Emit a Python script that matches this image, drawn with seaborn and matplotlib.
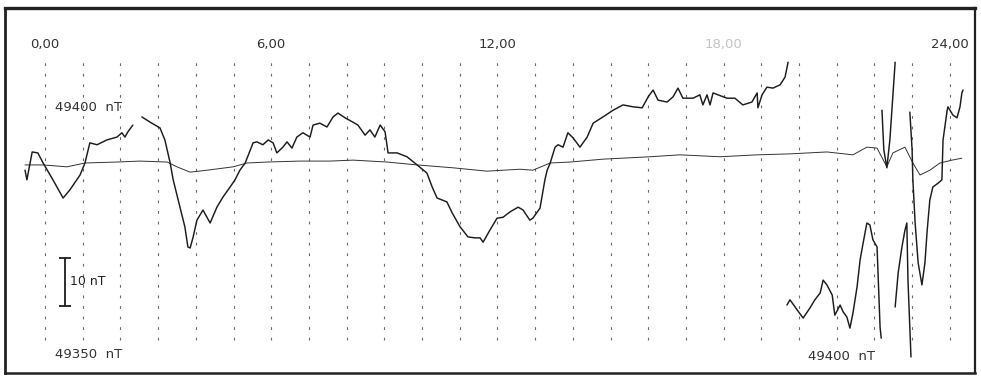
import numpy as np
import pandas as pd
import matplotlib
matplotlib.use("Agg")
import matplotlib.pyplot as plt
import seaborn as sns

# magnetogram, x in hours (UT), y in nT relative to the quiet base line
# main trace, split into pieces where the pen wrapped off the chart
seg_hours = [
    [-0.53, -0.48, -0.34, -0.19, -0.05, 0.21, 0.48, 0.66, 0.93, 1.06, 1.19, 1.38, 1.64, 1.91,
     2.04, 2.12, 2.20, 2.33],
    [2.57, 2.79, 3.05, 3.18, 3.32, 3.40, 3.58, 3.71, 3.79, 3.85, 3.93, 4.03, 4.19, 4.38, 4.56,
     4.72, 4.91, 5.04, 5.17, 5.31, 5.52, 5.62, 5.78, 5.92, 6.05, 6.15, 6.31, 6.42, 6.55, 6.68,
     6.84, 7.03, 7.11, 7.29, 7.48, 7.64, 7.77, 7.96, 8.17, 8.30, 8.49, 8.62, 8.75, 8.89, 9.02,
     9.10, 9.34, 9.60, 9.87, 10.13, 10.27, 10.40, 10.66, 10.80, 11.01, 11.22, 11.41, 11.54,
     11.62, 11.80, 11.99, 12.15, 12.33, 12.55, 12.68, 12.86, 12.94, 13.13, 13.26, 13.32, 13.40,
     13.53, 13.61, 13.74, 13.87, 14.01, 14.19, 14.38, 14.54, 14.80, 15.07, 15.33, 15.60, 15.84,
     16.00, 16.13, 16.26, 16.50, 16.66, 16.79, 16.92, 17.19, 17.37, 17.45, 17.56, 17.64, 17.72,
     17.85, 18.09, 18.30, 18.51, 18.75, 18.89, 18.91, 19.02, 19.15, 19.31, 19.50, 19.63, 19.71],
    [19.68, 19.76, 19.95, 20.11, 20.29, 20.42, 20.56, 20.64, 20.74, 20.88, 20.95, 21.09, 21.17,
     21.27, 21.35, 21.43, 21.54, 21.62, 21.70, 21.80, 21.88, 21.96, 22.07, 22.15, 22.18],
    [22.20, 22.25, 22.33, 22.41, 22.55],
    [22.55, 22.63, 22.73, 22.81, 22.86, 22.89, 22.97],
    [22.94, 23.00, 23.02, 23.08, 23.16, 23.26, 23.34, 23.40, 23.47, 23.55, 23.69, 23.79, 23.82,
     23.93, 23.95, 24.08, 24.19, 24.27, 24.32, 24.35],
]
seg_nt = [
    [-1.5, -3.5, 2.3, 2.1, 0.0, -3.5, -7.3, -5.6, -2.5, 0.0, 4.2, 3.8, 4.8, 5.4, 6.3, 5.4, 6.5, 7.9],
    [9.6, 8.5, 7.3, 4.8, 0.0, -3.5, -9.2, -13.3, -17.5, -17.7, -15.4, -11.9, -9.8, -12.5, -9.2,
     -7.1, -5.0, -3.5, -1.5, 0.0, 4.2, 4.4, 3.8, 4.8, 4.2, 2.1, 3.3, 4.4, 3.1, 5.4,
     6.3, 5.4, 7.9, 8.3, 7.5, 9.6, 10.4, 9.4, 8.5, 7.9, 5.8, 6.9, 5.4, 7.9, 6.5,
     2.1, 2.1, 1.3, -0.4, -2.1, -5.0, -7.3, -8.1, -10.4, -13.3, -15.4, -15.6, -15.6,
     -16.5, -14.0, -11.5, -11.3, -10.2, -9.2, -9.8, -11.9, -11.5, -9.4, -3.5, -1.5, 0.0,
     3.3, 3.8, 3.3, 6.3, 5.2, 3.3, 5.4, 8.3, 9.6, 11.0, 12.1, 11.7, 11.5,
     13.8, 15.2, 13.1, 12.7, 13.8, 15.6, 13.5, 13.5, 14.2, 12.1, 14.2, 12.1, 14.6,
     14.2, 13.5, 13.5, 12.1, 12.7, 14.6, 11.5, 14.2, 15.8, 15.6, 16.3, 17.9, 21.0],
    [-29.6, -28.5, -30.6, -32.3, -30.2, -28.5, -27.1, -24.4, -25.4, -27.5, -31.7, -29.6, -31.0,
     -32.1, -34.4, -31.3, -25.8, -20.2, -16.7, -12.5, -12.9, -16.0, -17.5, -34.2, -36.5],
    [11.0, 2.7, -1.0, 4.8, 21.0],
    [-30.0, -22.9, -17.5, -14.0, -12.5, -24.4, -40.4],
    [10.6, 2.7, -3.5, -12.5, -20.8, -25.4, -20.8, -14.0, -7.7, -5.0, -4.2, -3.5, 4.8,
     11.0, 11.7, 10.0, 9.4, 11.7, 14.6, 15.2],
]

# quiet reference trace
base_hours = [-0.53, -0.05, 0.58, 1.06, 1.91, 2.52, 3.24, 3.50, 3.85, 4.30, 4.99, 5.36, 5.89,
              6.76, 7.56, 8.17, 9.07, 9.87, 10.82, 11.72, 12.60, 12.94, 13.40, 13.93, 14.80,
              16.05, 16.84, 17.90, 18.89, 19.76, 20.74, 21.43, 21.80, 22.07, 22.33, 22.49,
              22.81, 23.02, 23.21, 23.47, 23.74, 24.06, 24.32]
base_nt = [-0.4, -0.4, -0.8, 0.0, 0.2, 0.4, 0.2, -0.8, -1.9, -1.5, -0.8, 0.0, 0.2,
           0.4, 0.4, 0.6, 0.2, -0.4, -1.0, -1.7, -1.3, -1.5, 0.0, 0.2, 0.8,
           1.3, 1.7, 1.3, 1.7, 1.9, 2.3, 1.7, 3.3, 3.1, -0.8, 2.1,
           3.3, 0.0, -2.5, -1.5, 0.0, 0.6, 1.0]

hour_lines = list(range(25))
tick_hours = [0, 6, 12, 18, 24]
tick_labels = ["0,00", "6,00", "12,00", "18,00", "24,00"]

rows = []
for k, (hh, vv) in enumerate(zip(seg_hours, seg_nt)):
    for h, v in zip(hh, vv):
        rows.append({"hour": h, "dF": v, "seg": k})
df = pd.DataFrame(rows)
df_base = pd.DataFrame({"hour": base_hours, "dF": base_nt})

sns.set_theme(style="white")
plt.rcParams["font.family"] = ["DejaVu Sans"]

fig = plt.figure(figsize=(9.81, 3.76), dpi=100)
ax = fig.add_axes([5 / 981, 3 / 376, 970 / 981, 365 / 376])
ink = "#1c1c1c"

# hourly dotted time marks
ax.vlines(hour_lines, -36.9, 21.5, colors="#6a6a6a", linewidth=0.8,
          linestyles=(0, (2.5, 7)), zorder=1)

sns.lineplot(data=df_base, x="hour", y="dF", sort=False, estimator=None,
             color="#333333", linewidth=0.7, ax=ax, zorder=2)
sns.lineplot(data=df, x="hour", y="dF", units="seg", estimator=None, sort=False,
             color=ink, linewidth=1.05, ax=ax, zorder=3, legend=False)

# 10 nT scale bar
ax.errorbar([0.53], [-24.7], yerr=[5.0], fmt="none", ecolor=ink, elinewidth=1.3,
            capsize=4, capthick=1.3)
ax.text(0.66, -24.7, "10 nT", fontsize=9, color="#222222", va="center", ha="left")

for h, lab in zip(tick_hours, tick_labels):
    col = "#c4c4c4" if h == 18 else "#333333"
    ax.text(h, 24.6, lab, fontsize=9.5, color=col, ha="center", va="center")

ax.text(0.27, 11.5, "49400  nT", fontsize=9.5, color="#333333", ha="left", va="center")
ax.text(0.27, -40.0, "49350  nT", fontsize=9.5, color="#333333", ha="left", va="center")
ax.text(20.24, -40.4, "49400  nT", fontsize=9.5, color="#333333", ha="left", va="center")

ax.set_xlim(-1.061, 24.668)
ax.set_ylim(-43.75, 32.29)
ax.set_xticks([])
ax.set_yticks([])
ax.set_xlabel("")
ax.set_ylabel("")
for side, lw in zip(["top", "left", "bottom", "right"], [2.4, 2.0, 1.8, 1.6]):
    ax.spines[side].set_visible(True)
    ax.spines[side].set_color("#222222")
    ax.spines[side].set_linewidth(lw)

fig.savefig("out.png", dpi=100, facecolor="white")
